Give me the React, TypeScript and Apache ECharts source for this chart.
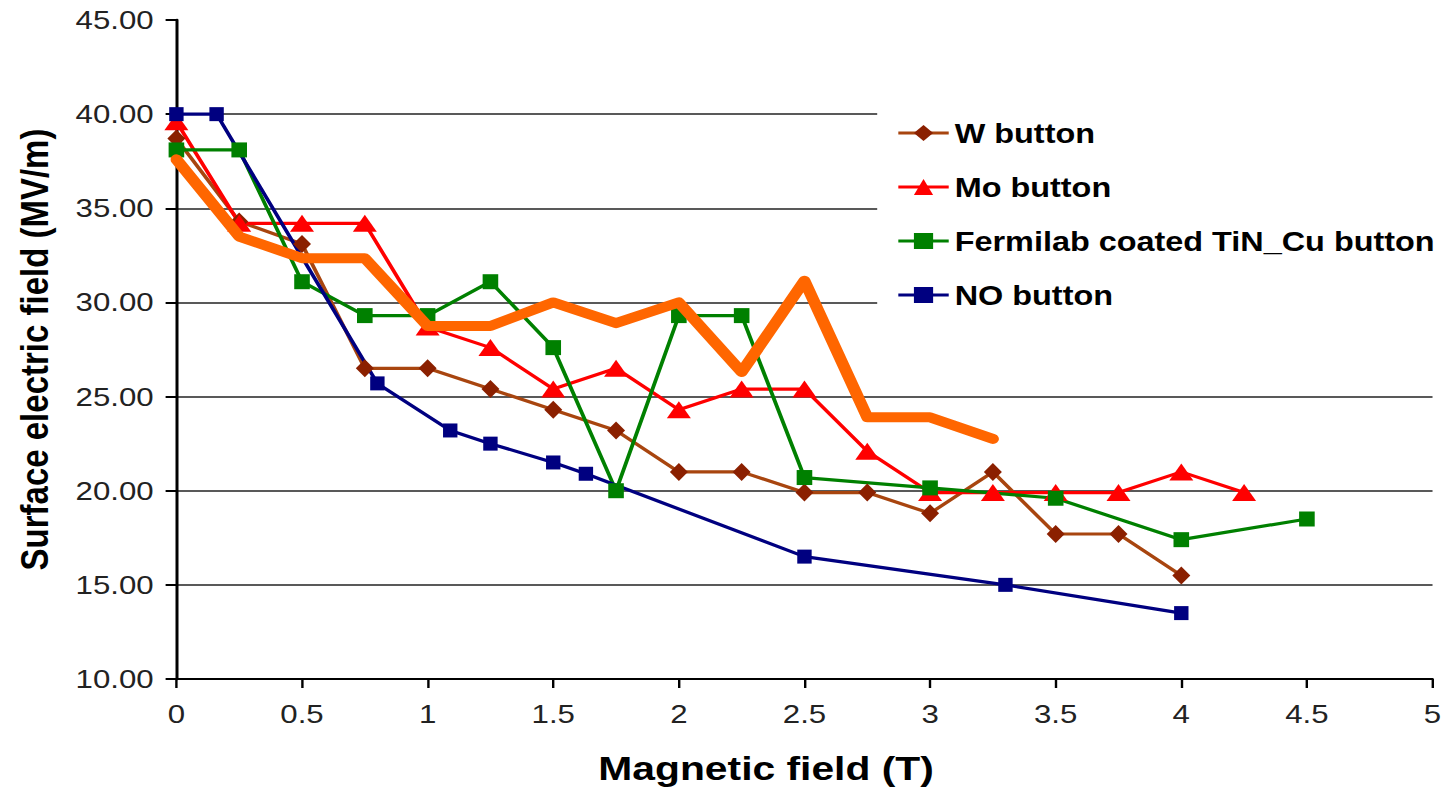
import React, { useEffect, useRef } from "react";
import * as echarts from "echarts";

// horizontal stretch of the reference picture
const S = 1.2;

const X_TICKS_MIN = 0;
const X_TICKS_MAX = 5;
const Y_TICKS_MIN = 10;
const Y_TICKS_MAX = 45;

const W_X = [0, 0.25, 0.5, 0.75, 1, 1.25, 1.5, 1.75, 2, 2.25, 2.5, 2.75, 3, 3.25, 3.5, 3.75, 4];
const W_Y = [38.7, 34.3, 33.1, 26.5, 26.5, 25.4, 24.3, 23.2, 21.0, 21.0, 19.9, 19.9, 18.8, 21.0, 17.7, 17.7, 15.5];

const MO_X = [0, 0.25, 0.5, 0.75, 1, 1.25, 1.5, 1.75, 2, 2.25, 2.5, 2.75, 3, 3.25, 3.5, 3.75, 4, 4.25];
const MO_Y = [39.6, 34.2, 34.2, 34.2, 28.7, 27.6, 25.4, 26.5, 24.3, 25.4, 25.4, 22.1, 19.9, 19.9, 19.9, 19.9, 21.0, 19.9];

const FE_X = [0, 0.25, 0.5, 0.75, 1, 1.25, 1.5, 1.75, 2, 2.25, 2.5, 3, 3.5, 4, 4.5];
const FE_Y = [38.1, 38.1, 31.1, 29.3, 29.3, 31.1, 27.6, 20.0, 29.3, 29.3, 20.7, 20.15, 19.6, 17.4, 18.5];

const NO_X = [0, 0.16, 0.8, 1.09, 1.25, 1.5, 1.63, 2.5, 3.3, 4];
const NO_Y = [40.0, 40.0, 25.7, 23.2, 22.5, 21.5, 20.9, 16.5, 15.0, 13.5];

const OR_X = [0, 0.25, 0.5, 0.75, 1, 1.25, 1.5, 1.75, 2, 2.25, 2.5, 2.75, 3, 3.25];
const OR_Y = [37.6, 33.5, 32.35, 32.35, 28.75, 28.75, 30.0, 28.9, 30.0, 26.3, 31.15, 23.9, 23.9, 22.75];

const NAMES = ["W button", "Mo button", "Fermilab coated TiN_Cu button", "NO button"];

const pairs = (xs: number[], ys: number[]) => xs.map((x, i) => [x, ys[i]]);

const FONT = "'Liberation Sans', Arial, sans-serif";

export default function App() {
  const ref = useRef<HTMLDivElement>(null);
  useEffect(() => {
    if (!ref.current) return;
    const chart = echarts.init(ref.current, null, { renderer: "svg" });
    const lineSeries = (
      name: string,
      xs: number[],
      ys: number[],
      lineColor: string,
      markColor: string,
      symbol: string,
      size: number[]
    ) => ({
      name,
      type: "line",
      data: pairs(xs, ys),
      symbol,
      symbolSize: size,
      lineStyle: { color: lineColor, width: 3.2 },
      itemStyle: { color: markColor, borderWidth: 0 },
      color: lineColor,
    });
    chart.setOption({
      animation: false,
      backgroundColor: "#ffffff",
      grid: { left: 147, right: 8.4, top: 20, bottom: 116, containLabel: false },
      legend: {
        data: NAMES,
        orient: "vertical",
        left: 731,
        top: 98,
        padding: [20, 10, 30, 16],
        backgroundColor: "#ffffff",
        itemWidth: 42,
        itemHeight: 20,
        itemGap: 24,
        lineStyle: { width: 3.2 },
        textStyle: { fontFamily: FONT, fontSize: 27, fontWeight: "bold", color: "#000", lineHeight: 30 },
      },
      xAxis: {
        type: "value",
        min: X_TICKS_MIN,
        max: X_TICKS_MAX,
        interval: 0.5,
        name: "Magnetic field (T)",
        nameLocation: "middle",
        nameGap: 72,
        nameTextStyle: {
          fontFamily: FONT,
          fontSize: 34,
          fontWeight: "bold",
          color: "#000",
          padding: [0, 64, 0, 0],
        },
        axisLine: { show: true, onZero: false, lineStyle: { color: "#000", width: 2.2 } },
        axisTick: { show: true, length: 9, lineStyle: { color: "#000", width: 2 } },
        axisLabel: { fontFamily: FONT, fontSize: 26, color: "#222", margin: 22 },
        splitLine: { show: false },
      },
      yAxis: {
        type: "value",
        min: Y_TICKS_MIN,
        max: Y_TICKS_MAX,
        interval: 5,
        name: "Surface electric field (MV/m)",
        nameLocation: "middle",
        nameGap: 102,
        nameTextStyle: { fontFamily: FONT, fontSize: 33, fontWeight: "bold", color: "#000" },
        axisLine: { show: true, lineStyle: { color: "#000", width: 2.5 } },
        axisTick: { show: true, length: 9, lineStyle: { color: "#000", width: 2 } },
        axisLabel: {
          fontFamily: FONT,
          fontSize: 26,
          color: "#222",
          margin: 19,
          formatter: (v: number) => v.toFixed(2),
        },
        splitLine: { show: true, showMaxLine: false, lineStyle: { color: "#222", width: 1.7 } },
      },
      series: [
        lineSeries(NAMES[0], W_X, W_Y, "#A8450F", "#8B2000", "diamond", [15, 18]),
        lineSeries(NAMES[1], MO_X, MO_Y, "#FF0000", "#FF0000", "triangle", [20, 17]),
        lineSeries(NAMES[2], FE_X, FE_Y, "#008000", "#008000", "rect", [13, 15]),
        lineSeries(NAMES[3], NO_X, NO_Y, "#000080", "#000080", "rect", [12, 14]),
        {
          name: "trend",
          type: "line",
          data: pairs(OR_X, OR_Y),
          showSymbol: false,
          symbol: "none",
          lineStyle: { color: "#FF6600", width: 10, cap: "round", join: "round" },
          z: 5,
        },
      ],
    });
    return () => chart.dispose();
  }, []);
  return (
    <div
      ref={ref}
      style={{
        position: "fixed",
        left: 0,
        top: 0,
        width: 1445 / S,
        height: 795,
        transform: `scaleX(${S})`,
        transformOrigin: "0 0",
        background: "#fff",
      }}
    />
  );
}
